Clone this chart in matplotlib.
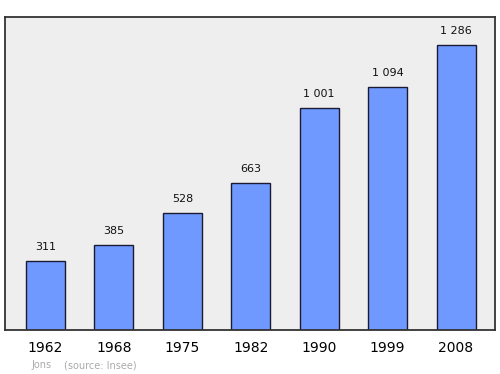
import matplotlib
matplotlib.use("Agg")
import matplotlib.pyplot as plt

years = ["1962", "1968", "1975", "1982", "1990", "1999", "2008"]
population = [311, 385, 528, 663, 1001, 1094, 1286]
value_labels = ["311", "385", "528", "663", "1 001", "1 094", "1 286"]

fig = plt.figure(figsize=(5, 3.74), dpi=100)
ax = fig.add_axes([0.01, 44/374, 0.98, 313/374])
ax.set_facecolor("#eeeeee")
x = list(range(len(years)))
ax.bar(x, population, width=0.57, color="#7099ff", edgecolor="#1a1a33", linewidth=1.0, zorder=2)
ax.set_xlim(-0.592, 6.57)
ax.set_ylim(0, 1412)
for xi, v, lab in zip(x, population, value_labels):
    ax.annotate(lab, (xi, v), xytext=(0, 6.5), textcoords="offset points",
                ha="center", va="bottom", fontsize=8, color="#111111")
ax.set_yticks([])
ax.set_xticks(x)
ax.set_xticklabels(years, fontsize=10)
ax.tick_params(axis="x", length=0, pad=8)
for s in ax.spines.values():
    s.set_color("#333333")
    s.set_linewidth(1.3)
fig.text(31/500, 1 - 365/374, "Jons", fontsize=7, color="#aaaaaa", va="center", ha="left")
fig.text(64/500, 1 - 365/374, "(source: Insee)", fontsize=7, color="#aaaaaa", va="center", ha="left")
fig.savefig("out.png", dpi=100)
